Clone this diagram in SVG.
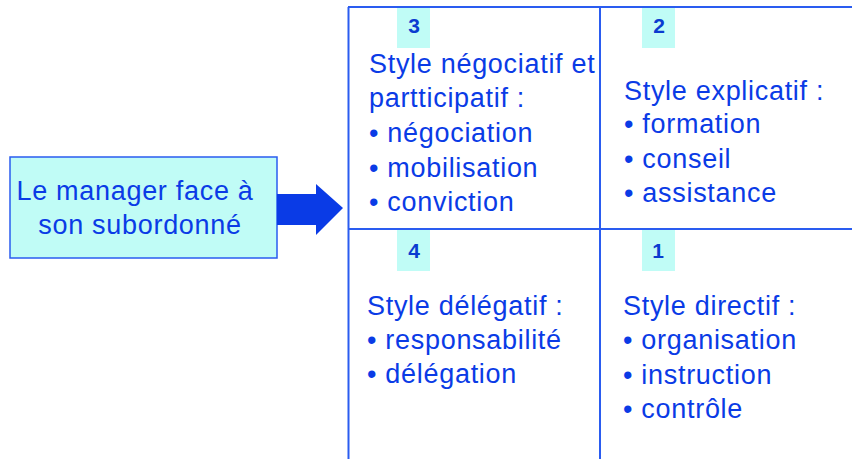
<svg xmlns="http://www.w3.org/2000/svg" width="852" height="459" viewBox="0 0 852 459">
<style>
.t{font-family:"Liberation Sans",Arial,sans-serif;font-size:27px;letter-spacing:0.7px;fill:#0a3be6}
.n{font-family:"Liberation Sans",Arial,sans-serif;font-size:21px;font-weight:bold;fill:#0a3bd0;text-anchor:middle}
.nb{fill:#c0fcf6}
.ln{stroke:#2a5cf0;stroke-width:2;fill:none}
</style>
<rect width="852" height="459" fill="#ffffff"/>
<g id="grid">
<line class="ln" x1="348" y1="7" x2="852" y2="7"/>
<line class="ln" x1="348" y1="229" x2="852" y2="229"/>
<line class="ln" x1="348.5" y1="7" x2="348.5" y2="459"/>
<line class="ln" x1="600" y1="7" x2="600" y2="459"/>
</g>
<g id="source">
<rect x="10" y="157" width="267" height="101" fill="#c0fcf6" stroke="#2a5cf0" stroke-width="1.5"/>
<text class="t" x="135" y="200" text-anchor="middle">Le manager face à</text>
<text class="t" x="140" y="234" text-anchor="middle">son subordonné</text>
</g>
<g id="connectors">
<polygon points="277,194 316,194 316,184 343,208 316,235 316,225 277,225" fill="#0a3be6"/>
</g>
<g id="q3">
<rect class="nb" x="397" y="8" width="33" height="40"/>
<text class="n" x="414" y="33">3</text>
<text class="t" x="369" y="73">Style négociatif et</text>
<text class="t" x="369" y="107">partticipatif :</text>
<text class="t" x="369" y="142">• négociation</text>
<text class="t" x="369" y="177">• mobilisation</text>
<text class="t" x="369" y="211">• conviction</text>
</g>
<g id="q2">
<rect class="nb" x="642" y="8" width="33" height="40"/>
<text class="n" x="659" y="33">2</text>
<text class="t" x="624" y="100">Style explicatif :</text>
<text class="t" x="624" y="133">• formation</text>
<text class="t" x="624" y="168">• conseil</text>
<text class="t" x="624" y="202">• assistance</text>
</g>
<g id="q4">
<rect class="nb" x="397" y="230" width="33" height="41"/>
<text class="n" x="414" y="258">4</text>
<text class="t" x="367" y="315">Style délégatif :</text>
<text class="t" x="367" y="349">• responsabilité</text>
<text class="t" x="367" y="383">• délégation</text>
</g>
<g id="q1">
<rect class="nb" x="642" y="230" width="33" height="41"/>
<text class="n" x="658" y="258">1</text>
<text class="t" x="623" y="315">Style directif :</text>
<text class="t" x="623" y="349">• organisation</text>
<text class="t" x="623" y="384">• instruction</text>
<text class="t" x="623" y="418">• contrôle</text>
</g>
</svg>
